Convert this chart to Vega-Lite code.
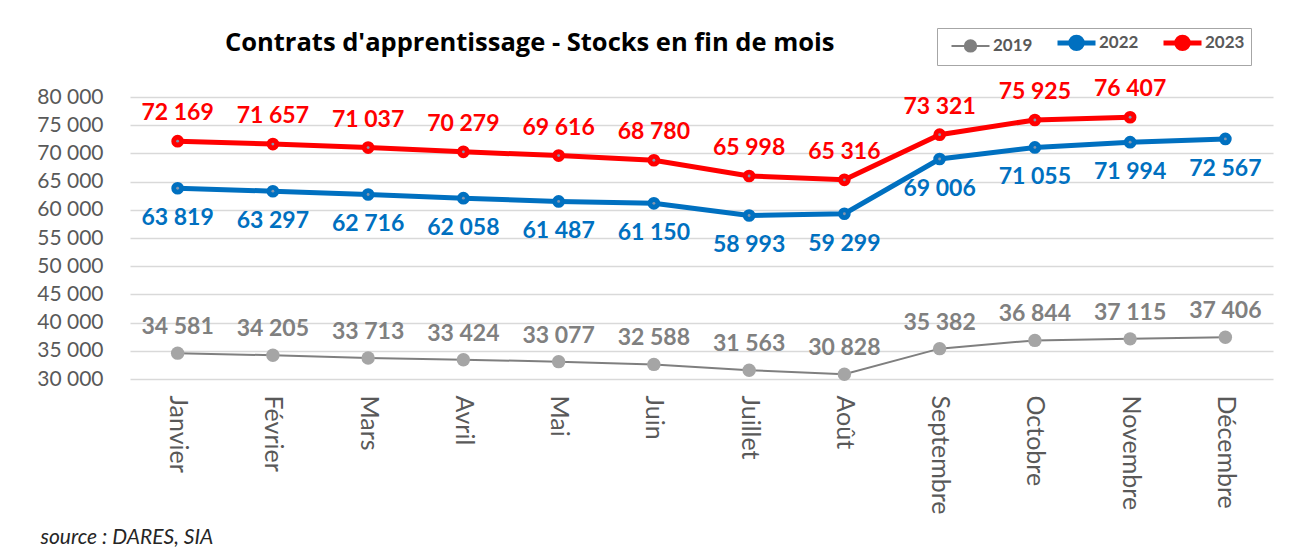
{
  "$schema": "https://vega.github.io/schema/vega-lite/v6.json",
  "width": 1143,
  "height": 282,
  "autosize": {"type": "none"},
  "padding": {"left": 130, "top": 97, "right": 18, "bottom": 175},
  "background": "white",
  "config": {
    "view": {"stroke": null},
    "font": "Lato",
    "locale": {
      "number": {"decimal": ",", "thousands": " ", "grouping": [3], "currency": ["", " €"]}
    }
  },
  "title": {
    "text": "Contrats d'apprentissage - Stocks en fin de mois",
    "anchor": "start",
    "frame": "group",
    "dx": 95,
    "offset": 0,
    "dy": 29,
    "fontSize": 25.5,
    "fontWeight": "bold",
    "color": "#000000",
    "font": "Open Sans"
  },
  "data": {
    "values": [
      {"mois": "Janvier", "annee": "2019", "valeur": 34581},
      {"mois": "Février", "annee": "2019", "valeur": 34205},
      {"mois": "Mars", "annee": "2019", "valeur": 33713},
      {"mois": "Avril", "annee": "2019", "valeur": 33424},
      {"mois": "Mai", "annee": "2019", "valeur": 33077},
      {"mois": "Juin", "annee": "2019", "valeur": 32588},
      {"mois": "Juillet", "annee": "2019", "valeur": 31563},
      {"mois": "Août", "annee": "2019", "valeur": 30828},
      {"mois": "Septembre", "annee": "2019", "valeur": 35382},
      {"mois": "Octobre", "annee": "2019", "valeur": 36844},
      {"mois": "Novembre", "annee": "2019", "valeur": 37115},
      {"mois": "Décembre", "annee": "2019", "valeur": 37406},
      {"mois": "Janvier", "annee": "2022", "valeur": 63819},
      {"mois": "Février", "annee": "2022", "valeur": 63297},
      {"mois": "Mars", "annee": "2022", "valeur": 62716},
      {"mois": "Avril", "annee": "2022", "valeur": 62058},
      {"mois": "Mai", "annee": "2022", "valeur": 61487},
      {"mois": "Juin", "annee": "2022", "valeur": 61150},
      {"mois": "Juillet", "annee": "2022", "valeur": 58993},
      {"mois": "Août", "annee": "2022", "valeur": 59299},
      {"mois": "Septembre", "annee": "2022", "valeur": 69006},
      {"mois": "Octobre", "annee": "2022", "valeur": 71055},
      {"mois": "Novembre", "annee": "2022", "valeur": 71994},
      {"mois": "Décembre", "annee": "2022", "valeur": 72567},
      {"mois": "Janvier", "annee": "2023", "valeur": 72169},
      {"mois": "Février", "annee": "2023", "valeur": 71657},
      {"mois": "Mars", "annee": "2023", "valeur": 71037},
      {"mois": "Avril", "annee": "2023", "valeur": 70279},
      {"mois": "Mai", "annee": "2023", "valeur": 69616},
      {"mois": "Juin", "annee": "2023", "valeur": 68780},
      {"mois": "Juillet", "annee": "2023", "valeur": 65998},
      {"mois": "Août", "annee": "2023", "valeur": 65316},
      {"mois": "Septembre", "annee": "2023", "valeur": 73321},
      {"mois": "Octobre", "annee": "2023", "valeur": 75925},
      {"mois": "Novembre", "annee": "2023", "valeur": 76407}
    ]
  },
  "encoding": {
    "x": {
      "field": "mois",
      "type": "ordinal",
      "sort": ["Janvier", "Février", "Mars", "Avril", "Mai", "Juin", "Juillet", "Août", "Septembre", "Octobre", "Novembre", "Décembre"],
      "axis": {
        "labelAngle": 90,
        "labelAlign": "left",
        "labelBaseline": "middle",
        "labelPadding": 16,
        "labelFontSize": 25,
        "labelColor": "#595959",
        "labelFont": "Lato",
        "ticks": false,
        "domain": false,
        "grid": false,
        "title": "source : DARES, SIA",
        "titleX": -90,
        "titleY": 158,
        "titleAlign": "left",
        "titleAnchor": null,
        "titleAngle": 0,
        "titleBaseline": "middle",
        "titleFontStyle": "italic",
        "titleFontWeight": "normal",
        "titleFontSize": 21,
        "titleColor": "#262626",
        "titleFont": "Lato"
      }
    },
    "y": {
      "field": "valeur",
      "type": "quantitative",
      "scale": {"domain": [30000, 80000], "nice": false, "zero": false},
      "axis": {
        "values": [30000, 35000, 40000, 45000, 50000, 55000, 60000, 65000, 70000, 75000, 80000],
        "format": ",d",
        "labelFontSize": 21,
        "labelColor": "#595959",
        "labelFont": "Lato",
        "labelPadding": 27,
        "ticks": false,
        "domain": false,
        "grid": true,
        "gridColor": "#d9d9d9",
        "gridWidth": 1.3,
        "title": null
      }
    }
  },
  "layer": [
    {
      "transform": [{"filter": "datum.annee === '2019'"}],
      "mark": {"type": "line", "strokeWidth": 2},
      "encoding": {
        "color": {
          "field": "annee",
          "type": "nominal",
          "scale": {"domain": ["2019", "2022", "2023"], "range": ["#7f7f7f", "#0070c0", "#ff0000"]},
          "legend": {
            "orient": "none",
            "legendX": 807,
            "legendY": -69,
            "direction": "horizontal",
            "title": null,
            "strokeColor": "#a6a6a6",
            "padding": 6,
            "symbolType": "M0,0L0.7,0M1.3,0L2,0M0.7,0A0.3,0.3 0 1,1 1.3,0A0.3,0.3 0 1,1 0.7,0Z",
            "symbolSize": 1444,
            "symbolStrokeWidth": 4,
            "labelFont": "Lato",
            "labelFontSize": 17,
            "labelFontWeight": "bold",
            "labelColor": "#595959",
            "labelOffset": 33,
            "columnPadding": 14,
            "encode": {
              "symbols": {
                "update": {
                  "strokeWidth": {"signal": "datum.value === '2019' ? 2 : 5"},
                  "fill": {"signal": "datum.value === '2019' ? '#a5a5a5' : datum.value === '2022' ? '#0070c0' : '#ff0000'"},
                  "fillOpacity": {"value": 1}
                }
              }
            }
          }
        }
      }
    },
    {
      "transform": [{"filter": "datum.annee !== '2019'"}],
      "mark": {"type": "line", "strokeWidth": 5},
      "encoding": {"color": {"field": "annee", "type": "nominal"}}
    },
    {
      "transform": [{"filter": "datum.annee === '2019'"}],
      "mark": {"type": "point", "filled": true, "size": 180, "opacity": 1, "color": "#a5a5a5"},
      "encoding": {}
    },
    {
      "transform": [{"filter": "datum.annee !== '2019'"}],
      "mark": {"type": "point", "filled": true, "size": 160, "opacity": 1},
      "encoding": {"color": {"field": "annee", "type": "nominal"}}
    },
    {
      "transform": [{"filter": "datum.annee !== '2019'"}],
      "mark": {"type": "point", "filled": true, "size": 8, "opacity": 1, "color": "#8497b0"},
      "encoding": {}
    },
    {
      "transform": [{"filter": "datum.annee === '2023'"}],
      "mark": {"type": "text", "dy": -28, "fontSize": 23, "fontWeight": "bold", "font": "Lato", "color": "#ff0000"},
      "encoding": {"text": {"field": "valeur", "type": "quantitative", "format": ",d"}}
    },
    {
      "transform": [{"filter": "datum.annee === '2022'"}],
      "mark": {"type": "text", "dy": 30, "fontSize": 23, "fontWeight": "bold", "font": "Lato", "color": "#0070c0"},
      "encoding": {"text": {"field": "valeur", "type": "quantitative", "format": ",d"}}
    },
    {
      "transform": [{"filter": "datum.annee === '2019'"}],
      "mark": {"type": "text", "dy": -26, "fontSize": 23, "fontWeight": "bold", "font": "Lato", "color": "#808080"},
      "encoding": {"text": {"field": "valeur", "type": "quantitative", "format": ",d"}}
    }
  ]
}
